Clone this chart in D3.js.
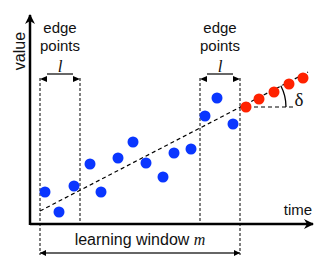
<!DOCTYPE html>
<html>
<head>
<meta charset="utf-8">
<script src="https://cdn.jsdelivr.net/npm/d3@7"></script>
<style>
  body { margin: 0; background: #fff; }
  text { font-family: "Liberation Sans", Arial, sans-serif; fill: #111; }
  .serif { font-family: "Liberation Serif", "Times New Roman", serif; font-style: italic; }
</style>
</head>
<body>
<script>
// learning window points (time, value)
let bluePoints = [
    [1.5, 3.2], [2.9, 1.2], [4.4, 3.8], [6.0, 6.0], [7.1, 3.2], [8.8, 6.6], [10.3, 8.2],
    [11.6, 6.1], [13.3, 4.7], [14.4, 7.1], [16.1, 7.5], [17.5, 10.8], [18.7, 12.6], [20.3, 10.0]
]
// predicted points after the window
let redPoints = [[21.6, 11.7], [22.9, 12.5], [24.4, 13.2], [25.9, 14.0], [27.3, 14.6]]
let trendLine = [[1.0, 1.3], [27.8, 15.2]]
let refLine = [[21.0, 11.7], [26.4, 11.7]]
let learningWindow = [1.0, 21.0]
let edgeWindows = [[1.0, 5.0], [17.0, 21.0]]
let edgeLabels = ["edge", "points"]
let axisLabels = ["time", "value"]

let width = 322
let height = 265

let xScale = d3.scaleLinear().domain([0, 28.3]).range([30, 313])
let yScale = d3.scaleLinear().domain([0, 20.9]).range([224, 15])

let svg = d3.select("body").append("svg")
    .attr("width", width)
    .attr("height", height)

// arrow heads
let defs = svg.append("defs")
defs.append("marker")
    .attr("id", "bigHead")
    .attr("viewBox", "0 0 10 10")
    .attr("refX", 9).attr("refY", 5)
    .attr("markerWidth", 13).attr("markerHeight", 10)
    .attr("markerUnits", "userSpaceOnUse")
    .attr("orient", "auto")
    .append("path").attr("d", "M0,0 L10,5 L0,10 L3,5 Z").attr("fill", "#000")
defs.append("marker")
    .attr("id", "smallHead")
    .attr("viewBox", "0 0 10 10")
    .attr("refX", 10).attr("refY", 5)
    .attr("markerWidth", 8).attr("markerHeight", 6)
    .attr("markerUnits", "userSpaceOnUse")
    .attr("orient", "auto-start-reverse")
    .append("path").attr("d", "M0,0 L10,5 L0,10 Z").attr("fill", "#000")

let x0 = xScale(0), y0 = yScale(0)

// window boundaries
let topY = 78
let lowY = 255
let bounds = [
    [learningWindow[0], lowY], [edgeWindows[0][1], y0],
    [edgeWindows[1][0], y0], [learningWindow[1], lowY]
]
svg.selectAll(".bound")
    .data(bounds)
    .enter()
    .append("line")
    .attr("class", "bound")
    .attr("x1", d => xScale(d[0])).attr("x2", d => xScale(d[0]))
    .attr("y1", topY).attr("y2", d => d[1])
    .attr("stroke", "#000").attr("stroke-width", 1)
    .attr("stroke-dasharray", "3,2")

// trend line
let line = d3.line().x(d => xScale(d[0])).y(d => yScale(d[1]))
svg.append("path")
    .attr("d", line(trendLine))
    .attr("fill", "none").attr("stroke", "#000")
    .attr("stroke-width", 1.2).attr("stroke-dasharray", "4,3")
svg.append("path")
    .attr("d", line(refLine))
    .attr("fill", "none").attr("stroke", "#000")
    .attr("stroke-width", 1.2).attr("stroke-dasharray", "4,3")

// angle arc
let cx = xScale(refLine[0][0]), cy = yScale(refLine[0][1])
let ang = Math.atan2(yScale(trendLine[0][1]) - yScale(trendLine[1][1]), xScale(trendLine[1][0]) - xScale(trendLine[0][0]))
let arc = d3.arc().innerRadius(46).outerRadius(46)
    .startAngle(Math.PI / 2 - ang).endAngle(Math.PI / 2)
svg.append("path")
    .attr("transform", "translate(" + cx + "," + cy + ")")
    .attr("d", arc())
    .attr("fill", "none").attr("stroke", "#000").attr("stroke-width", 1.3)
svg.append("text")
    .attr("class", "serif")
    .attr("x", 299).attr("y", 106)
    .attr("text-anchor", "middle")
    .style("font-style", "normal")
    .style("font-size", "19px")
    .text("δ")

// axes
svg.append("line")
    .attr("x1", x0).attr("y1", y0).attr("x2", xScale(28.3)).attr("y2", y0)
    .attr("stroke", "#000").attr("stroke-width", 2.5)
    .attr("marker-end", "url(#bigHead)")
svg.append("line")
    .attr("x1", x0).attr("y1", y0 + 1).attr("x2", x0).attr("y2", yScale(20.9))
    .attr("stroke", "#000").attr("stroke-width", 2.5)
    .attr("marker-end", "url(#bigHead)")

svg.append("text")
    .attr("x", 298).attr("y", 215)
    .attr("text-anchor", "middle")
    .style("font-size", "15px")
    .text(axisLabels[0])
svg.append("text")
    .attr("transform", "translate(25,51) rotate(-90)")
    .attr("text-anchor", "middle")
    .style("font-size", "16px")
    .text(axisLabels[1])

// edge windows
edgeWindows.forEach(w => {
    let a = xScale(w[0]), b = xScale(w[1]), mid = (a + b) / 2
    svg.append("text").attr("x", mid).attr("y", 33)
        .attr("text-anchor", "middle").style("font-size", "15px").text(edgeLabels[0])
    svg.append("text").attr("x", mid).attr("y", 51)
        .attr("text-anchor", "middle").style("font-size", "15px").text(edgeLabels[1])
    svg.append("text").attr("class", "serif").attr("x", mid).attr("y", 72)
        .attr("text-anchor", "middle").style("font-size", "17px").text("l")
    svg.append("line")
        .attr("x1", a + 7).attr("x2", b - 7).attr("y1", 74).attr("y2", 74)
        .attr("stroke", "#000").attr("stroke-width", 1.2)
    svg.append("path")
        .attr("d", "M" + a + "," + 79 + " l7,-3 l0,6 Z M" + b + "," + 79 + " l-7,-3 l0,6 Z")
        .attr("fill", "#000")
})

// learning window arrow
svg.append("line")
    .attr("x1", xScale(learningWindow[0])).attr("x2", xScale(learningWindow[1]))
    .attr("y1", 253).attr("y2", 253)
    .attr("stroke", "#333").attr("stroke-width", 1.5)
    .attr("marker-start", "url(#smallHead)")
    .attr("marker-end", "url(#smallHead)")
let lw = svg.append("text")
    .attr("x", (xScale(learningWindow[0]) + xScale(learningWindow[1])) / 2)
    .attr("y", 245)
    .attr("text-anchor", "middle")
    .style("font-size", "16px")
lw.append("tspan").text("learning window ")
lw.append("tspan").attr("class", "serif").text("m")

// points
svg.selectAll(".blue")
    .data(bluePoints)
    .enter()
    .append("circle")
    .attr("class", "blue")
    .attr("cx", d => xScale(d[0]))
    .attr("cy", d => yScale(d[1]))
    .attr("r", 5.5)
    .attr("fill", "#0a36ff")

svg.selectAll(".red")
    .data(redPoints)
    .enter()
    .append("circle")
    .attr("class", "red")
    .attr("cx", d => xScale(d[0]))
    .attr("cy", d => yScale(d[1]))
    .attr("r", 5.5)
    .attr("fill", "#ff2200")
</script>
</body>
</html>
